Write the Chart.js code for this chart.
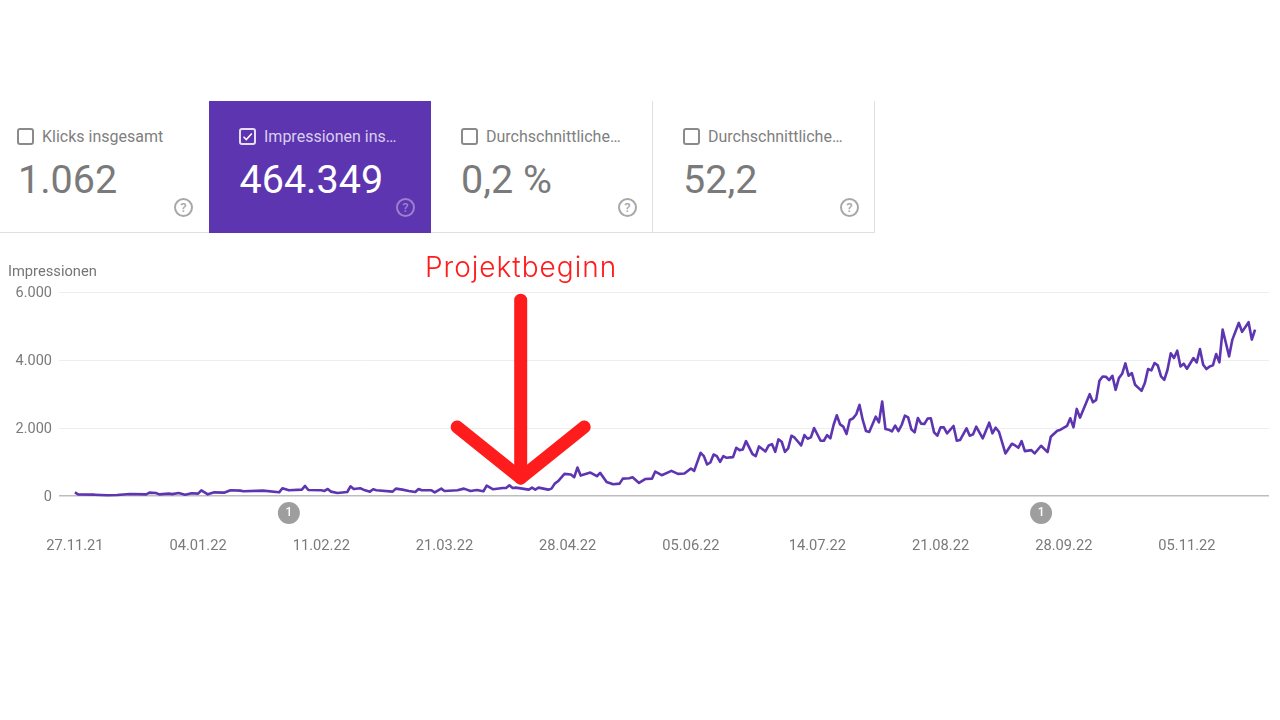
<!DOCTYPE html>
<html><head><meta charset="utf-8">
<script src="https://cdn.jsdelivr.net/npm/chart.js@4"></script>
<style>
html,body{margin:0;padding:0;background:#fff;width:1280px;height:720px;overflow:hidden;font-family:Roboto,sans-serif}
canvas{position:absolute;left:0;top:0}
.card{position:absolute;top:101px;height:131px;box-sizing:content-box;color:#7a7a7a;background:#fff;border-bottom:1px solid #e0e0e0}
.card.line{border-right:1px solid #e0e0e0}
.card.on{background:#5e35b1;color:#fff;border-bottom-color:#5e35b1}
.cb{position:absolute;left:17px;top:27px;width:13px;height:13px;border:2px solid #8a8a8a;border-radius:3px}
.on .cb{border-color:#e6dff3}
.on .cb svg{position:absolute;left:0;top:0}
.lb{position:absolute;left:42px;top:26.5px;font-size:16px;line-height:18px;white-space:nowrap;color:#808080}
.on .lb{color:#d9cfee;left:55px}
.on .cb{left:30px}
.vl{position:absolute;left:18px;top:56px;font-size:39.5px;line-height:46px;white-space:nowrap}
.on .vl{left:30.5px}
.q{position:absolute;top:97px;width:15px;height:15px;border:2px solid #a8a8a8;border-radius:50%;color:#a8a8a8;font-size:13px;font-weight:500;line-height:15px;text-align:center}
.on .q{border-color:#9a80cf;color:#9a80cf}
#yt{position:absolute;left:8px;top:262px;font-size:14.7px;line-height:18px;color:#757575}
#pb{position:absolute;left:425px;top:249px;font-family:Inter,sans-serif;font-weight:300;font-size:28px;line-height:36px;letter-spacing:1px;color:#ff1c1c;white-space:nowrap}
</style></head><body>
<canvas id="c" width="1280" height="720"></canvas>
<div id="cards"></div>
<div id="yt"></div>
<div id="pb"></div>
<script>
const metricLabels=["Klicks insgesamt","Impressionen ins…","Durchschnittliche…","Durchschnittliche…"];
const metricValues=["1.062","464.349","0,2 %","52,2"];
const axisTitle="Impressionen";
const annotationText="Projektbeginn";
const tickDays=[0,38,76,114,152,190,229,267,305,343];
const tickLabels=["27.11.21","04.01.22","11.02.22","21.03.22","28.04.22","05.06.22","14.07.22","21.08.22","28.09.22","05.11.22"];
const yTicks=[0,2000,4000,6000];
const days=[0,1,6,10,13,17,22,23,25,26,29,30,32,34,36,38,39,41,43,46,48,51,52,58,63,64,66,70,71,72,
76,77,78,79,81,84,85,86,88,89,91,92,93,98,99,101,103,105,106,107,110,111,113,114,118,120,122,124,126,127,129,132,133,134,135,136,138,140,141,142,143,146,147,148,149,151,153,154,155,156,159,161,162,164,166,168,169,171,172,
174,176,178,179,181,184,186,188,190,191,193,194,195,196,197,198,199,200,201,203,204,205,206,207,209,210,211,213,214,215,216,217,218,219,220,221,222,224,225,226,227,228,230,231,232,233,234,235,236,237,238,239,240,241,242,243,244,245,247,248,249,250,251,252,253,254,255,256,257,258,259,260,261,262,263,264,265,266,267,268,269,271,272,
273,275,276,277,278,280,282,283,284,285,287,289,290,291,292,293,295,296,298,300,301,303,304,306,307,308,309,310,313,314,315,316,317,318,319,320,321,322,323,324,325,326,327,329,330,331,332,333,334,335,336,337,338,339,340,341,342,343,345,346,347,348,349,350,351,352,353,354,356,357,359,360,362,363,364];
const impressions=[108,49,39,20,30,59,49,98,89,49,69,55,89,39,79,69,167,49,108,98,167,158,138,158,108,227,167,187,295,177,
167,148,207,128,89,118,286,207,227,187,128,197,167,128,217,187,148,118,207,167,167,108,217,148,167,217,148,177,138,305,197,236,236,315,236,246,217,187,246,187,246,187,217,364,433,650,630,552,837,601,690,581,680,414,345,364,512,522,552,
384,502,512,719,611,739,650,660,808,739,1271,1172,926,985,1221,1172,1005,1172,1123,1143,1418,1349,1369,1615,1231,1172,1458,1310,1487,1527,1300,1665,1596,1300,1399,1773,1714,1487,1793,1684,1724,2000,1625,1625,1793,1694,2088,2374,2108,2039,1822,2236,2285,2403,2679,2236,1911,1881,2334,2167,2778,1970,1950,1901,2069,1911,2088,2364,2315,1960,1871,2295,2128,2118,2275,2285,1871,1773,2019,2019,1842,2059,1625,
1645,1990,1773,1812,2039,1694,2157,1842,2009,1891,1251,1537,1487,1418,1615,1320,1349,1251,1477,1290,1743,1920,1950,2059,2285,2019,2561,2305,2994,2758,2827,3388,3516,3507,3408,3536,3122,3467,3595,3900,3536,3615,3270,3093,3320,3733,3694,3910,3842,3516,3418,3713,4196,4058,4275,3812,3891,3743,4058,3930,4324,3861,3733,3812,3842,4176,3930,4896,4107,4600,5093,4827,5112,4600,4896];
const markerDays=[66,298];
const markerValues=[-500,-500];
const markerText="1";
const arrowDay=137.5, arrowSpread=19.6, arrowTip=530, arrowTop=5760, arrowWing=2030;

const cardBoxes=[[0,209],[209,222],[431,221],[653,221]];
const cardsEl=document.getElementById('cards');
metricLabels.forEach((t,i)=>{
  const [l,w]=cardBoxes[i];
  const d=document.createElement('div');
  d.className='card'+(i===1?' on':'')+(i>=2?' line':'');
  d.style.left=l+'px';d.style.width=w+'px';
  const check=i===1?'<svg width="13" height="13" viewBox="0 0 13 13"><path d="M2.5 6.8 5.3 9.6 10.8 3.6" fill="none" stroke="#fff" stroke-width="1.5"/></svg>':'';
  d.innerHTML='<div class="cb">'+check+'</div><div class="lb"></div><div class="vl"></div><div class="q" style="left:'+(i===0?174:187)+'px">?</div>';
  d.querySelector('.lb').textContent=t;
  d.querySelector('.vl').textContent=metricValues[i];
  if(i>=2){d.querySelector('.cb').style.left='30px';d.querySelector('.lb').style.left='55px';d.querySelector('.vl').style.left='30px';}
  cardsEl.appendChild(d);
});
document.getElementById('yt').textContent=axisTitle;
document.getElementById('pb').textContent=annotationText;

const overlay={id:'overlay',afterDraw(ch){
  const g=ch.ctx,x=ch.scales.x,y=ch.scales.y;
  g.save();
  g.fillStyle='#fff';g.font='500 12px Roboto';g.textAlign='center';g.textBaseline='middle';
  markerDays.forEach((d,i)=>g.fillText(markerText,x.getPixelForValue(d),y.getPixelForValue(markerValues[i])));
  const cx=x.getPixelForValue(arrowDay),tip=y.getPixelForValue(arrowTip);
  g.strokeStyle='#ff1c1c';g.lineCap='round';g.lineJoin='round';g.lineWidth=13;
  g.beginPath();g.moveTo(cx,y.getPixelForValue(arrowTop));g.lineTo(cx,tip);g.stroke();
  g.beginPath();
  g.moveTo(x.getPixelForValue(arrowDay-arrowSpread),y.getPixelForValue(arrowWing));
  g.lineTo(cx,tip);
  g.lineTo(x.getPixelForValue(arrowDay+arrowSpread),y.getPixelForValue(arrowWing));
  g.stroke();
  g.restore();
}};

new Chart(document.getElementById('c'),{
  type:'line',
  plugins:[overlay],
  data:{datasets:[
    {data:days.map((d,i)=>({x:d,y:impressions[i]})),borderColor:'#5e35b1',borderWidth:2.6,pointRadius:0,tension:0,borderJoinStyle:'round'},
    {data:markerDays.map((d,i)=>({x:d,y:markerValues[i]})),showLine:false,pointRadius:11,pointBackgroundColor:'#9e9e9e',pointBorderWidth:0}
  ]},
  options:{
    responsive:false,animation:false,devicePixelRatio:1,
    layout:{padding:{top:292,right:11,left:0,bottom:0}},
    plugins:{legend:{display:false},tooltip:{enabled:false}},
    scales:{
      x:{type:'linear',min:-4.9,max:368.3,
        afterBuildTicks:a=>{a.ticks=tickDays.map(v=>({value:v}));},
        afterFit:a=>{a.height=190;},
        grid:{display:false,drawTicks:false},border:{display:false},
        ticks:{autoSkip:false,maxRotation:0,padding:8,color:'#7a7a7a',font:{family:'Roboto',size:14.7},
          callback:v=>tickLabels[tickDays.indexOf(v)]}},
      y:{min:-1000,max:6000,
        afterBuildTicks:a=>{a.ticks=yTicks.map(v=>({value:v}));},
        afterFit:a=>{a.width=59;},
        grid:{color:c=>c.tick.value===0?'#bdbdbd':'#eeeeee',lineWidth:c=>c.tick.value===0?1.5:1,drawTicks:false},border:{display:false},
        ticks:{padding:7,labelOffset:1,color:'#7a7a7a',font:{family:'Roboto',size:14.5},
          callback:v=>v===0?'0':(v/1000)+'.000'}}
    }
  }
});
</script>
</body></html>
